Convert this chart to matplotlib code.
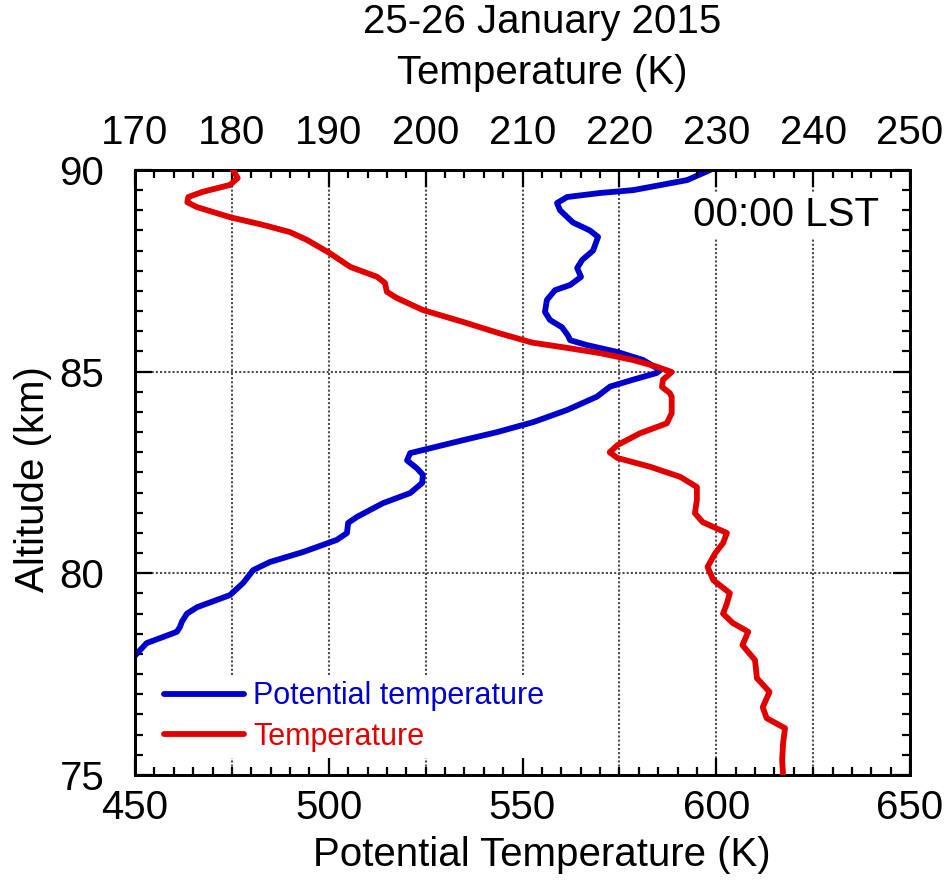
import matplotlib
matplotlib.use('Agg')
import matplotlib.pyplot as plt
from matplotlib.ticker import MultipleLocator

plt.rcParams['font.family'] = ['Liberation Sans', 'DejaVu Sans']

# potential temperature profile (bottom axis, K) vs altitude (km)
theta = [598.4, 592.5, 578.5, 570.0, 561.5, 558.9, 559.7, 563.0, 567.4, 569.5,
         568.2, 565.4, 564.1, 565.1, 562.3, 558.4, 556.3, 555.8, 557.1, 560.2,
         561.7, 562.3, 566.6, 574.4, 581.1, 585.5, 584.7, 578.5, 572.6, 569.2,
         561.5, 552.8, 543.4, 534.6, 526.1, 521.0, 520.2, 522.8, 524.3, 524.1,
         521.0, 514.0, 507.3, 505.0, 504.7, 502.1, 493.4, 484.8, 480.5, 477.9,
         474.5, 466.0, 463.4, 462.1, 461.6, 460.8, 457.2, 453.0, 449.6]
z_theta = [90.0, 89.75, 89.5, 89.43, 89.33, 89.18, 89.0, 88.7, 88.5, 88.34,
           88.0, 87.77, 87.57, 87.35, 87.15, 87.02, 86.78, 86.48, 86.28, 86.1,
           85.9, 85.78, 85.66, 85.49, 85.29, 85.04, 84.97, 84.8, 84.63, 84.38,
           84.05, 83.75, 83.5, 83.3, 83.1, 82.98, 82.8, 82.6, 82.44, 82.24,
           81.99, 81.74, 81.4, 81.25, 81.0, 80.83, 80.53, 80.28, 80.08, 79.76,
           79.46, 79.16, 79.0, 78.8, 78.67, 78.55, 78.42, 78.27, 77.92]

# temperature profile (top axis, K) vs altitude (km)
temp = [180.1, 180.6, 179.8, 177.0, 175.5, 175.4, 176.4, 179.8, 183.2, 186.0,
        187.8, 190.1, 192.2, 195.0, 195.8, 196.0, 197.0, 199.7, 203.9, 207.5,
        211.0, 214.6, 218.0, 221.4, 223.9, 225.4, 224.5, 224.4, 225.2, 225.4,
        225.4, 224.9, 222.1, 219.8, 219.0, 219.8, 223.2, 226.3, 228.0, 228.0,
        227.8, 228.6, 231.1, 230.7, 229.9, 229.1, 229.7, 231.4, 231.1, 230.7,
        231.7, 233.3, 232.7, 234.0, 234.2, 235.5, 234.8, 235.2, 237.1, 236.9,
        236.8, 236.9]
z_temp = [90.0, 89.8, 89.63, 89.46, 89.33, 89.2, 89.08, 88.83, 88.64, 88.46,
          88.26, 87.94, 87.6, 87.35, 87.2, 86.98, 86.83, 86.53, 86.23, 85.96,
          85.72, 85.59, 85.46, 85.29, 85.12, 84.99, 84.8, 84.62, 84.47, 84.38,
          83.97, 83.72, 83.47, 83.18, 83.0, 82.86, 82.64, 82.39, 82.14, 81.82,
          81.49, 81.27, 81.0, 80.75, 80.5, 80.16, 79.83, 79.51, 79.25, 79.0,
          78.77, 78.55, 78.22, 77.85, 77.4, 77.06, 76.68, 76.41, 76.16, 75.79,
          75.37, 75.0]

blue = '#0000CC'
red = '#E00000'
fs = 29

fig = plt.figure(figsize=(9.51, 8.82), dpi=100)
ax = fig.add_axes([135/951, 107/882, 775/951, 605/882])
ax.set_xlim(450, 650)
ax.set_ylim(75, 90)

# dotted grid
for gx in [475, 500, 525, 550, 575, 600, 625]:
    ax.axvline(gx, color='0.3', lw=1.5, ls=(0, (1, 1)), zorder=1)
for gy in [80, 85]:
    ax.axhline(gy, color='0.3', lw=1.5, ls=(0, (1, 1)), zorder=1)

l1, = ax.plot(theta, z_theta, color=blue, lw=4.2, zorder=3,
              label='Potential temperature', solid_capstyle='round',
              solid_joinstyle='round')

ax2 = ax.twiny()
ax2.set_xlim(170, 250)
l2, = ax2.plot(temp, z_temp, color=red, lw=4.2, zorder=3,
               label='Temperature', solid_capstyle='round',
               solid_joinstyle='round')

ax.xaxis.set_major_locator(MultipleLocator(50))
ax.xaxis.set_minor_locator(MultipleLocator(5))
ax.yaxis.set_major_locator(MultipleLocator(5))
ax.yaxis.set_minor_locator(MultipleLocator(0.5))
ax2.xaxis.set_major_locator(MultipleLocator(10))
ax2.xaxis.set_minor_locator(MultipleLocator(2))

ax.tick_params(which='both', direction='in', right=True, width=1.6, labelsize=fs)
ax.tick_params(axis='x', which='both', top=False)
ax.tick_params(which='major', length=12)
ax.tick_params(which='minor', length=6)
ax.tick_params(axis='x', which='major', pad=10)
ax.tick_params(axis='y', which='major', pad=22)
ax2.tick_params(which='both', direction='in', width=1.6, labelsize=fs)
ax2.tick_params(which='major', length=12, pad=13)
ax2.tick_params(which='minor', length=6)
for a in (ax, ax2):
    for s in a.spines.values():
        s.set_linewidth(2)

fig.text(542/951, 1 - 855/882, 'Potential Temperature (K)', fontsize=fs,
         ha='center', va='center')
fig.text(33/951, 1 - 479/882, 'Altitude (km)', fontsize=fs, rotation=90,
         ha='center', va='center')
fig.text(542/951, 1 - 73/882, 'Temperature (K)', fontsize=fs,
         ha='center', va='center')
fig.text(542/951, 1 - 22/882, '25-26 January 2015', fontsize=fs,
         ha='center', va='center')

ax2.text(0.96, 0.925, '00:00 LST', transform=ax2.transAxes, fontsize=fs,
         ha='right', va='center', zorder=5,
         bbox=dict(facecolor='white', edgecolor='none', pad=3))

leg = ax2.legend(handles=[l1, l2], loc='upper left',
                 bbox_to_anchor=(0.03, 0.165), fontsize=22, frameon=True,
                 handlelength=2.6, handletextpad=0.3, labelspacing=0.35,
                 borderpad=0.2, borderaxespad=0, labelcolor='linecolor')
leg.get_frame().set_facecolor('white')
leg.get_frame().set_edgecolor('none')
leg.get_frame().set_alpha(1)
for h in leg.legend_handles:
    h.set_linewidth(4.2)

fig.savefig('out.png', dpi=100)
